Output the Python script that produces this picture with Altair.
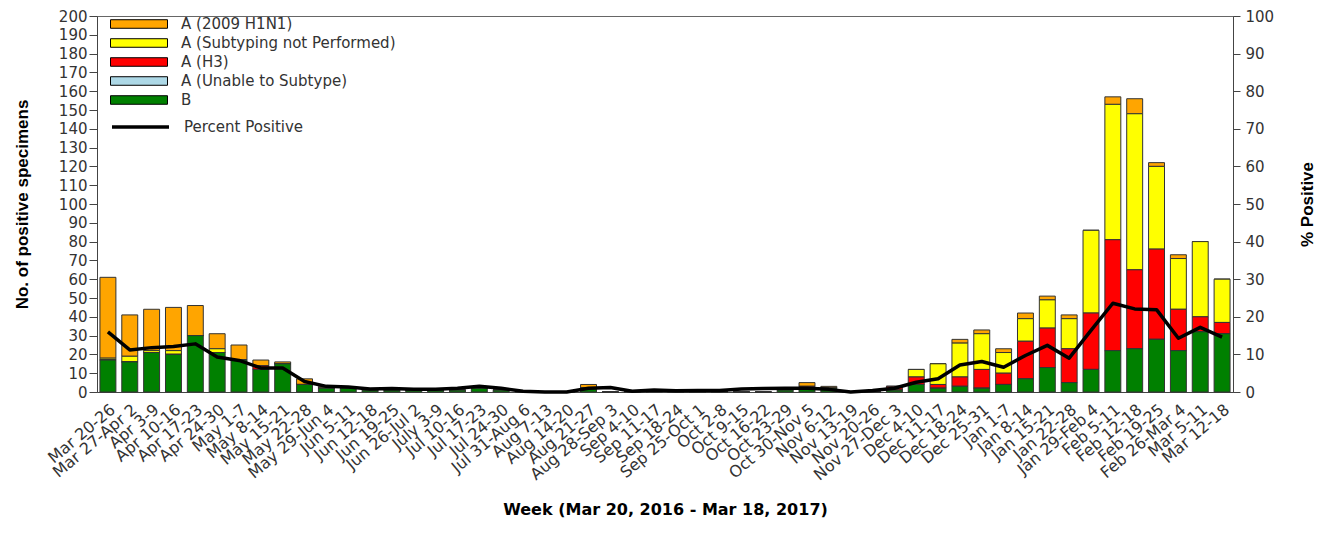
import altair as alt
import pandas as pd

weeks = ["Mar 20-26", "Mar 27-Apr 2", "Apr 3-9", "Apr 10-16", "Apr 17-23", "Apr 24-30",
         "May 1-7", "May 8-14", "May 15-21", "May 22-28", "May 29-Jun 4", "Jun 5-11",
         "Jun 12-18", "Jun 19-25", "Jun 26-Jul 2", "July 3-9", "Jul 10-16", "Jul 17-23",
         "Jul 24-30", "Jul 31-Aug 6", "Aug 7-13", "Aug 14-20", "Aug 21-27", "Aug 28-Sep 3",
         "Sep 4-10", "Sep 11-17", "Sep 18-24", "Sep 25-Oct 1", "Oct 2-8", "Oct 9-15",
         "Oct 16-22", "Oct 23-29", "Oct 30-Nov 5", "Nov 6-12", "Nov 13-19", "Nov 20-26",
         "Nov 27-Dec 3", "Dec 4-10", "Dec 11-17", "Dec 18-24", "Dec 25-31", "Jan 1-7",
         "Jan 8-14", "Jan 15-21", "Jan 22-28", "Jan 29-Feb 4", "Feb 5-11", "Feb 12-18",
         "Feb 19-25", "Feb 26-Mar 4", "Mar 5-11", "Mar 12-18"]

b_vals = [17, 16, 21, 20, 30, 21, 17, 12, 15, 4, 2, 2, 1, 1, 1, 1, 1, 2, 1, 0, 0, 0, 2, 0,
          0, 0, 0, 0, 0, 0, 0, 1, 2, 2, 0, 0, 1, 4, 2, 3, 2, 4, 7, 13, 5, 12, 22, 23, 28, 22, 32, 31]
unable_vals = [0] * 52
h3_vals = [0, 0, 0, 0, 0, 0, 0, 2, 0, 0, 0, 0, 0, 0, 0, 0, 0, 0, 0, 0, 0, 0, 0, 0,
           0, 0, 0, 0, 0, 0, 0, 1, 1, 0, 0, 0, 2, 4, 2, 5, 10, 6, 20, 21, 18, 30, 59, 42, 48, 22, 8, 6]
subnp_vals = [1, 3, 1, 2, 0, 2, 0, 0, 0, 0, 0, 0, 0, 0, 0, 0, 0, 0, 0, 0, 0, 0, 0, 0,
              0, 0, 0, 0, 0, 0, 0, 0, 0, 0, 0, 0, 0, 4, 11, 18, 19, 11, 12, 15, 16, 44, 72, 83, 44, 27, 40, 23]
h1n1_vals = [43, 22, 22, 23, 16, 8, 8, 3, 1, 3, 1, 0, 0, 0, 0, 0, 0, 0, 0, 0, 0, 0, 2, 0,
             0, 0, 0, 0, 0, 0, 0, 0, 2, 1, 0, 0, 0, 0, 0, 2, 2, 2, 3, 2, 2, 0, 4, 8, 2, 2, 0, 0]
pct_vals = [16.0, 11.2, 11.8, 12.1, 12.8, 9.3, 8.4, 6.4, 6.4, 2.8, 1.5, 1.3, 0.8, 0.9, 0.7,
            0.7, 1.0, 1.5, 1.0, 0.2, 0.0, 0.0, 1.0, 1.2, 0.2, 0.5, 0.3, 0.4, 0.4, 0.8, 0.9,
            1.0, 1.0, 0.7, 0.0, 0.4, 1.0, 2.6, 3.5, 7.2, 8.1, 6.6, 9.7, 12.4, 9.0, 16.4,
            23.6, 22.1, 21.9, 14.3, 17.2, 14.6]

series_names = ["A (2009 H1N1)", "A (Subtyping not Performed)", "A (H3)",
                "A (Unable to Subtype)", "B"]
series_colors = ["#FFA500", "#FFFF00", "#FF0000", "#ADD8E6", "#008000"]
series_values = [h1n1_vals, subnp_vals, h3_vals, unable_vals, b_vals]
stack_order = [4, 3, 2, 1, 0]

rows = []
for name, vals, o in zip(series_names, series_values, stack_order):
    for w, v in zip(weeks, vals):
        rows.append({"week": w, "series": name, "count": v, "ord": o})
bars_df = pd.DataFrame(rows)
line_df = pd.DataFrame({"week": weeks, "pct": pct_vals, "s": ["Percent Positive"] * 52})

FONT = "DejaVu Sans"
TFONT = "Liberation Sans"

x_enc = alt.X("week:N", sort=weeks,
              scale=alt.Scale(paddingInner=0.27, paddingOuter=0.135),
              axis=alt.Axis(title="Week (Mar 20, 2016 - Mar 18, 2017)", labelAngle=320,
                            ticks=False, labelFont=FONT, labelFontSize=16, labelColor="#333",
                            labelPadding=9, titleFont=FONT, titleFontSize=16,
                            titleFontWeight="bold", titleColor="black", titlePadding=18,
                            domainColor="#444"))

bars = alt.Chart(bars_df).mark_bar(stroke="#333", strokeWidth=1).encode(
    x=x_enc,
    y=alt.Y("sum(count):Q", stack="zero",
            scale=alt.Scale(domain=[0, 200], nice=False),
            axis=alt.Axis(values=list(range(0, 201, 10)), title="No. of positive specimens",
                          grid=False, tickSize=8, labelPadding=2, labelFont=FONT,
                          labelFontSize=15, labelColor="#333", titleFont=TFONT,
                          titleFontSize=17, titleFontWeight="bold", titleColor="black",
                          titlePadding=27, domainColor="#444", tickColor="#444")),
    color=alt.Color("series:N", scale=alt.Scale(domain=series_names, range=series_colors),
                    legend=alt.Legend(title=None, orient="none", legendX=13, legendY=1,
                                      symbolType="M-1,-0.15L1,-0.15L1,0.15L-1,0.15Z",
                                      symbolSize=3249, symbolStrokeColor="black",
                                      symbolStrokeWidth=1, symbolOpacity=1, clipHeight=14,
                                      rowPadding=4, labelOffset=13, labelFont=FONT,
                                      labelFontSize=15, labelColor="#333", labelLimit=0,
                                      padding=0)),
    order=alt.Order("ord:Q", sort="ascending"),
)

line = alt.Chart(line_df).mark_line(strokeWidth=3.5, strokeJoin="round").encode(
    x=alt.X("week:N", sort=weeks),
    y=alt.Y("pct:Q", scale=alt.Scale(domain=[0, 100], nice=False),
            axis=alt.Axis(orient="right", values=list(range(0, 101, 10)), title="% Positive",
                          grid=False, tickSize=7, labelPadding=5, labelFont=FONT,
                          labelFontSize=15, labelColor="#333", titleFont=TFONT,
                          titleFontSize=17, titleFontWeight="bold", titleColor="black",
                          titleAngle=270, titleBaseline="top", titlePadding=26,
                          domainColor="#444", tickColor="#444")),
    stroke=alt.Stroke("s:N", scale=alt.Scale(domain=["Percent Positive"], range=["black"]),
                      legend=alt.Legend(title=None, orient="none", legendX=13, legendY=104,
                                        symbolType="stroke", symbolSize=3249,
                                        symbolStrokeWidth=3.5, clipHeight=14, labelOffset=13,
                                        labelFont=FONT, labelFontSize=15, labelColor="#333",
                                        labelLimit=0, padding=0)),
)

chart = alt.layer(bars, line).resolve_scale(y="independent").properties(
    width=1136, height=376,
    autosize=alt.AutoSizeParams(type="none"),
    padding={"left": 89, "top": 8, "right": 88, "bottom": 140},
).configure_view(stroke="#666", strokeWidth=1)

chart.save("out.html", embed_options={"renderer": "svg", "actions": False})
